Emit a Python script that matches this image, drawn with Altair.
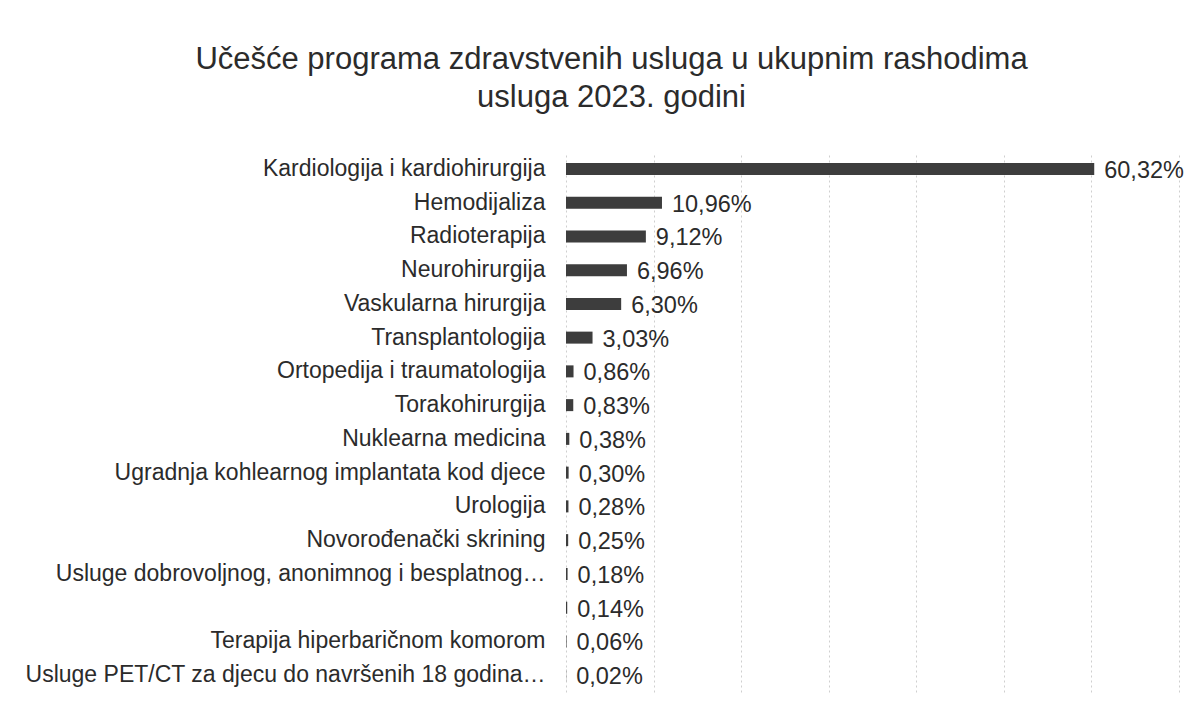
import json
import altair as alt
import pandas as pd

title_lines = ["Učešće programa zdravstvenih usluga u ukupnim rashodima",
               "usluga 2023. godini"]

categories = [
    "Kardiologija i kardiohirurgija",
    "Hemodijaliza",
    "Radioterapija",
    "Neurohirurgija",
    "Vaskularna hirurgija",
    "Transplantologija",
    "Ortopedija i traumatologija",
    "Torakohirurgija",
    "Nuklearna medicina",
    "Ugradnja kohlearnog implantata kod djece",
    "Urologija",
    "Novorođenački skrining",
    "Usluge dobrovoljnog, anonimnog i besplatnog…",
    "",
    "Terapija hiperbaričnom komorom",
    "Usluge PET/CT za djecu do navršenih 18 godina…",
]
values = [60.32, 10.96, 9.12, 6.96, 6.30, 3.03, 0.86, 0.83, 0.38, 0.30,
          0.28, 0.25, 0.18, 0.14, 0.06, 0.02]
grid_ticks = [0, 10, 20, 30, 40, 50, 60, 70]

df = pd.DataFrame({"row": list(range(len(categories))),
                   "name": categories,
                   "value": values})

FONT = "Liberation Sans"
TEXT = "#2b2b2b"
label_expr = json.dumps(categories, ensure_ascii=False) + "[datum.value]"

y_enc = alt.Y(
    "row:O",
    sort=None,
    scale=alt.Scale(paddingInner=0, paddingOuter=0),
    axis=alt.Axis(title=None, labelExpr=label_expr, labelFont=FONT,
                  labelFontSize=23, labelColor=TEXT, labelPadding=21,
                  labelLimit=700, ticks=False, domain=False, grid=False),
)
x_enc = alt.X(
    "value:Q",
    scale=alt.Scale(domain=[0, 70], nice=False, zero=True),
    axis=alt.Axis(title=None, values=grid_ticks, labels=False, ticks=False,
                  domain=False, grid=True, gridColor="#cfcfcf",
                  gridDash=[2, 3], gridWidth=1),
)

bars = alt.Chart(df).mark_bar(size=12, color="#3d3d3d").encode(x=x_enc, y=y_enc)

labels = alt.Chart(df).transform_calculate(
    txt="replace(format(datum.value, '.2f'), '.', ',') + '%'"
).mark_text(align="left", baseline="middle", dx=10, dy=2, font=FONT,
            fontSize=23.5, color=TEXT).encode(
    x="value:Q", y=alt.Y("row:O", sort=None), text="txt:N"
)

chart = alt.layer(bars, labels).properties(
    width=613,
    height=540,
    autosize=alt.AutoSizeParams(type="none"),
    padding={"left": 558, "top": 144, "right": 6, "bottom": 25},
    title=alt.TitleParams(text=title_lines, font=FONT, fontSize=31,
                          fontWeight="normal", color=TEXT, anchor="middle",
                          lineHeight=38, offset=38, dx=-261),
).configure(background="white").configure_view(stroke=None)

chart.save("out.html", embed_options={"renderer": "svg", "actions": False})
